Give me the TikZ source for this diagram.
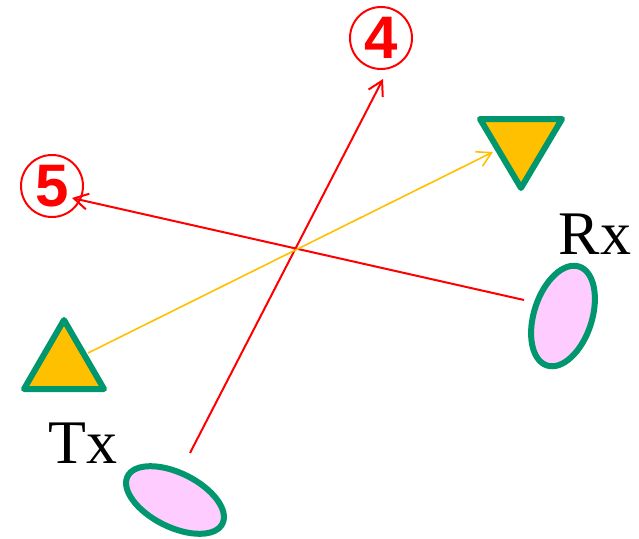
\documentclass[tikz,border=0pt]{standalone}
\usepackage{fontspec}
\setmainfont{Liberation Serif}
\newfontfamily\digitfont{Liberation Sans}
\usetikzlibrary{arrows.meta}
\definecolor{antgreen}{RGB}{0,150,110}
\definecolor{antorange}{RGB}{255,192,0}
\definecolor{antpink}{RGB}{255,204,255}
\tikzset{
  antenna/.style={draw=antgreen, line width=3pt, line join=round},
  ray/.style={-{Straight Barb[length=7pt,width=8pt]}, line width=1pt},
  pathno/.style={draw=red, circle, line width=1pt, text=red, inner sep=0pt,
    minimum size=31pt, font=\digitfont\bfseries\fontsize{30}{30}\selectfont},
  station/.style={font=\fontsize{31}{31}\selectfont}
}
\begin{document}
\begin{tikzpicture}[x=0.5pt,y=0.5pt]
\useasboundingbox (0,0) rectangle (639,538);

% Antennen
\filldraw[antenna, fill=antorange] (24,149) -- (104,149) -- (64,218) -- cycle;
\filldraw[antenna, fill=antorange] (480,419) -- (562,419) -- (521,350) -- cycle;

% Stationen
\filldraw[antenna, fill=antpink, rotate around={-26.5:(175,38)}]
  (175,38) ellipse [x radius=26.5pt, y radius=13.5pt];
\filldraw[antenna, fill=antpink, rotate around={-18:(563,222)}]
  (563,222) ellipse [x radius=14.5pt, y radius=26pt];

\node[station] (tx) at (83,95) {Tx};
\node[station] (rx) at (595,304) {Rx};

% Pfade
\node[pathno] (p4) at (381,500) {4};
\node[pathno] (p5) at (52,352) {5};

\coordinate (txout) at (190,85);
\coordinate (p4in) at (383,459);
\coordinate (rxout) at (524,238);
\coordinate (p5in) at (72,340);
\coordinate (trout) at (88,185);
\coordinate (trin) at (493,386);

\draw[ray, red] (txout) -- (p4in);
\draw[ray, red] (rxout) -- (p5in);
\draw[ray, antorange, line width=0.8pt] (trout) -- (trin);

\end{tikzpicture}
\end{document}
